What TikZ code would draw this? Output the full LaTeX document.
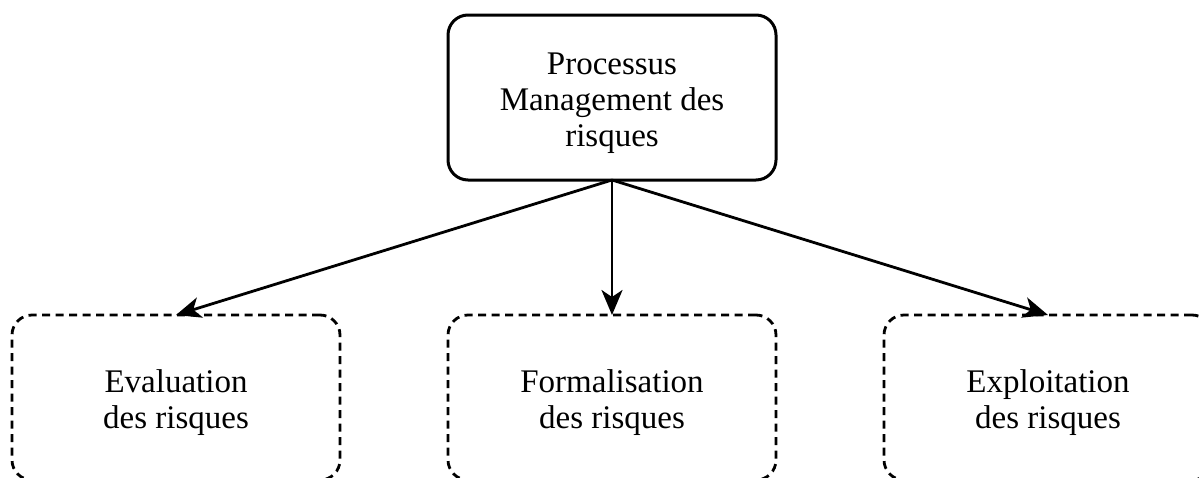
\documentclass[tikz,border=0pt]{standalone}
\usepackage{fontspec}
\setmainfont{Liberation Serif}
\usetikzlibrary{arrows.meta}
\newcommand{\boxtext}[2]{\raisebox{#1}[\height][\depth]{\begin{tabular}{@{}c@{}}#2\end{tabular}}}
\tikzset{
  box/.style={rectangle, rounded corners=20pt, minimum width=328pt, minimum height=165pt,
    align=center, outer sep=0pt, inner sep=0pt, font=\fontsize{33}{36}\selectfont},
  mainbox/.style={box, draw, line width=3pt},
  subbox/.style={box, draw, line width=2.8pt, dash pattern=on 8pt off 5.5pt},
  arr/.style={line width=2.8pt, -{Stealth[length=25pt, width=21pt, inset=7pt]}}
}
\begin{document}
\begin{tikzpicture}[x=1pt, y=-1pt]
  \useasboundingbox (0,0) rectangle (1199,477);
  \clip (0,0) rectangle (1199,477);
  \node[mainbox] (top) at (612,97.5) {\boxtext{-5.5pt}{Processus\\Management des\\risques}};
  \node[subbox] (eval) at (176,397.5) {\boxtext{-6pt}{Evaluation\\des risques}};
  \node[subbox] (form) at (612,397.5) {\boxtext{-6pt}{Formalisation\\des risques}};
  \node[subbox] (expl) at (1048,397.5) {\boxtext{-6pt}{Exploitation\\des risques}};
  \draw[arr] (top.south) -- (eval.north);
  \draw[arr] (top.south) -- (form.north);
  \draw[arr] (top.south) -- (expl.north);
\end{tikzpicture}
\end{document}
